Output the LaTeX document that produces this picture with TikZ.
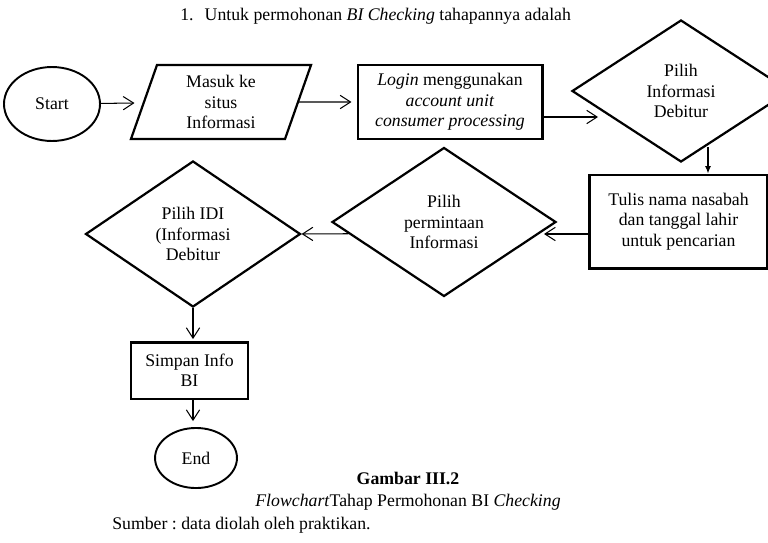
\documentclass[tikz,border=0pt]{standalone}
\usepackage{fontspec}
\setmainfont{Liberation Serif}
\usetikzlibrary{arrows.meta,shapes.geometric,calc}

\tikzset{
  base/.style={font=\fontsize{12}{13.8}\selectfont\frenchspacing, align=center, inner sep=0pt},
  term/.style={base, ellipse, draw, line width=1.3pt},
  io/.style={base, trapezium, trapezium left angle=64, trapezium right angle=116,
    trapezium stretches body, draw, line width=1.5pt},
  procbox/.style={base, rectangle, draw, line width=2pt},
  choice/.style={base, diamond, draw, line width=1.5pt},
  arr/.style={-{Straight Barb[length=7pt,width=9pt]}, line width=0.7pt},
  arrf/.style={-{Latex[length=5pt,width=4pt]}, line width=0.7pt}
}

\begin{document}
\begin{tikzpicture}[x=0.676pt,y=-0.676pt]
\useasboundingbox (0,0) rectangle (768,542);

\node[base, anchor=west] (judul) at (180,16) {1.\hspace{7.5pt}Untuk permohonan \textit{BI Checking} tahapannya adalah};

\node[term, minimum width=64.9pt, minimum height=50pt] (start) at (52,104) {Start};
\node[io, minimum width=121.7pt, minimum height=50pt] (situs) at (221,102) {Masuk ke\\situs\\Informasi};
\node[procbox, minimum width=124.4pt, minimum height=50pt] (login) at (450,102)
  {\textit{Login} menggunakan\\\textit{account unit}\\\textit{consumer processing}};
\node[choice, minimum width=147.4pt, minimum height=96pt] (infodeb) at (681,91) {Pilih\\Informasi\\Debitur};
\node[procbox, minimum width=119.7pt, minimum height=62.9pt] (tulis) at (678.5,221.5)
  {Tulis nama nasabah\\dan tanggal lahir\\untuk pencarian};
\node[choice, minimum width=151.4pt, minimum height=100.7pt] (minta) at (444,222) {Pilih\\permintaan\\Informasi};
\node[choice, minimum width=145.3pt, minimum height=98.7pt] (idi) at (193,234) {Pilih IDI\\(Informasi\\Debitur};
\node[procbox, minimum width=79.1pt, minimum height=38.5pt] (simpan) at (189.5,370.5) {Simpan Info\\BI};
\node[term, minimum width=55.4pt, minimum height=40.6pt] (stop) at (196,458) {End};

\coordinate (a3) at (598,117);
\coordinate (a4) at (708,147);
\coordinate (a5) at (544,234);

\draw[arr, shorten >=5.4pt] (start) -- (situs);
\draw[arr, shorten >=3.4pt] (situs) -- (login);
\draw[arr] (login.east |- a3) -- (a3);
\draw[arrf] (a4) -- (a4 |- tulis.north);
\draw[arr] (tulis.west |- a5) -- (a5);
\draw[arr] (minta.187) -- (idi.east);
\draw[arr, shorten >=1pt] (idi.south) -- (idi.south |- simpan.north);
\draw[arr, shorten >=4pt] (idi.south |- simpan.south) -- (idi.south |- stop.north);

\node[base, font=\fontsize{12}{13.8}\selectfont\bfseries] (gambar) at (408,478) {Gambar III.2};
\node[base] (judulgbr) at (408,502) {\textit{Flowchart}Tahap Permohonan BI \textit{Checking}};
\node[base, anchor=west] (sumber) at (112,525) {Sumber : data diolah oleh praktikan.};

\end{tikzpicture}
\end{document}
